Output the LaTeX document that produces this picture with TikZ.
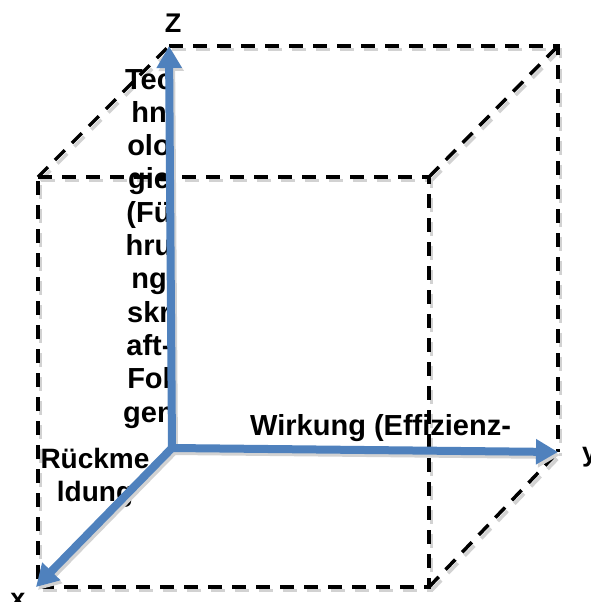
\documentclass[tikz,border=0pt]{standalone}
\usepackage{fontspec}
\setmainfont{Liberation Sans}
\usetikzlibrary{arrows.meta}
\definecolor{axisblue}{HTML}{4F81BD}
\definecolor{shadowgrey}{HTML}{D2D2D2}
\tikzset{
  cubeedge/.style={line width=3.5pt, dash pattern=on 14pt off 10pt, line join=miter},
  cubeshadow/.style={cubeedge, shadowgrey, transform canvas={shift={(2.5,3.5)}}},
  axisarrow/.style={line width=8pt, axisblue, -{Triangle[length=22pt,width=24pt]}},
  axisshadow/.style={axisarrow, shadowgrey, transform canvas={shift={(2,3)}}},
  lbl/.style={font=\fontsize{29}{33.3}\selectfont\bfseries, inner sep=0pt, align=center},
  axlbl/.style={font=\fontsize{27}{32}\selectfont\bfseries, inner sep=0pt},
}
\begin{document}
\begin{tikzpicture}[x=1pt, y=-1pt]
\useasboundingbox (0,0) rectangle (590,602);
% cube corners (front face F, back face B)
\coordinate (F1) at (38,177);
\coordinate (F2) at (429,177);
\coordinate (F3) at (429,587);
\coordinate (F4) at (38,587);
\coordinate (B1) at (169,46);
\coordinate (B2) at (558,46);
\coordinate (B3) at (558,452);
% axes
\coordinate (O) at (172,448);
\coordinate (Zt) at (169,46);
\coordinate (Yt) at (558,452);
\coordinate (Xt) at (36,587);

% dashed cube edges with their shadows
\foreach \st in {cubeshadow, cubeedge} {
  \draw[\st] (F1) -- (F2) -- (F3) -- (F4) -- cycle;
  \draw[\st] (B1) -- (B2) -- (B3);
  \draw[\st] (F1) -- (B1);
  \draw[\st] (F2) -- (B2);
  \draw[\st] (F3) -- (B3);
}

% labels (base anchor = baseline of the last line)
\node[lbl, anchor=base] (tech) at (149,422)
  {Tec\\hn\\olo\\gie\\(Fü\\hru\\ng\\skr\\aft-\\Fol\\gen};
\node[lbl, anchor=base, font=\fontsize{28}{33}\selectfont\bfseries] (rueck) at (95,501) {Rückme\\ldung};
\node[lbl, anchor=base west] (wirk) at (250,435) {Wirkung (Effizienz-};

% axis arrows
\foreach \st in {axisshadow, axisarrow} {
  \draw[\st] (O) -- (Zt);
  \draw[\st] (O) -- (Yt);
  \draw[\st] (O) -- (Xt);
}

% axis names
\node[axlbl, anchor=base] (zl) at (173,33) {Z};
\node[axlbl, anchor=base west] (yl) at (582,461) {y};
\node[axlbl, anchor=base] (xl) at (18,607) {x};
\end{tikzpicture}
\end{document}
